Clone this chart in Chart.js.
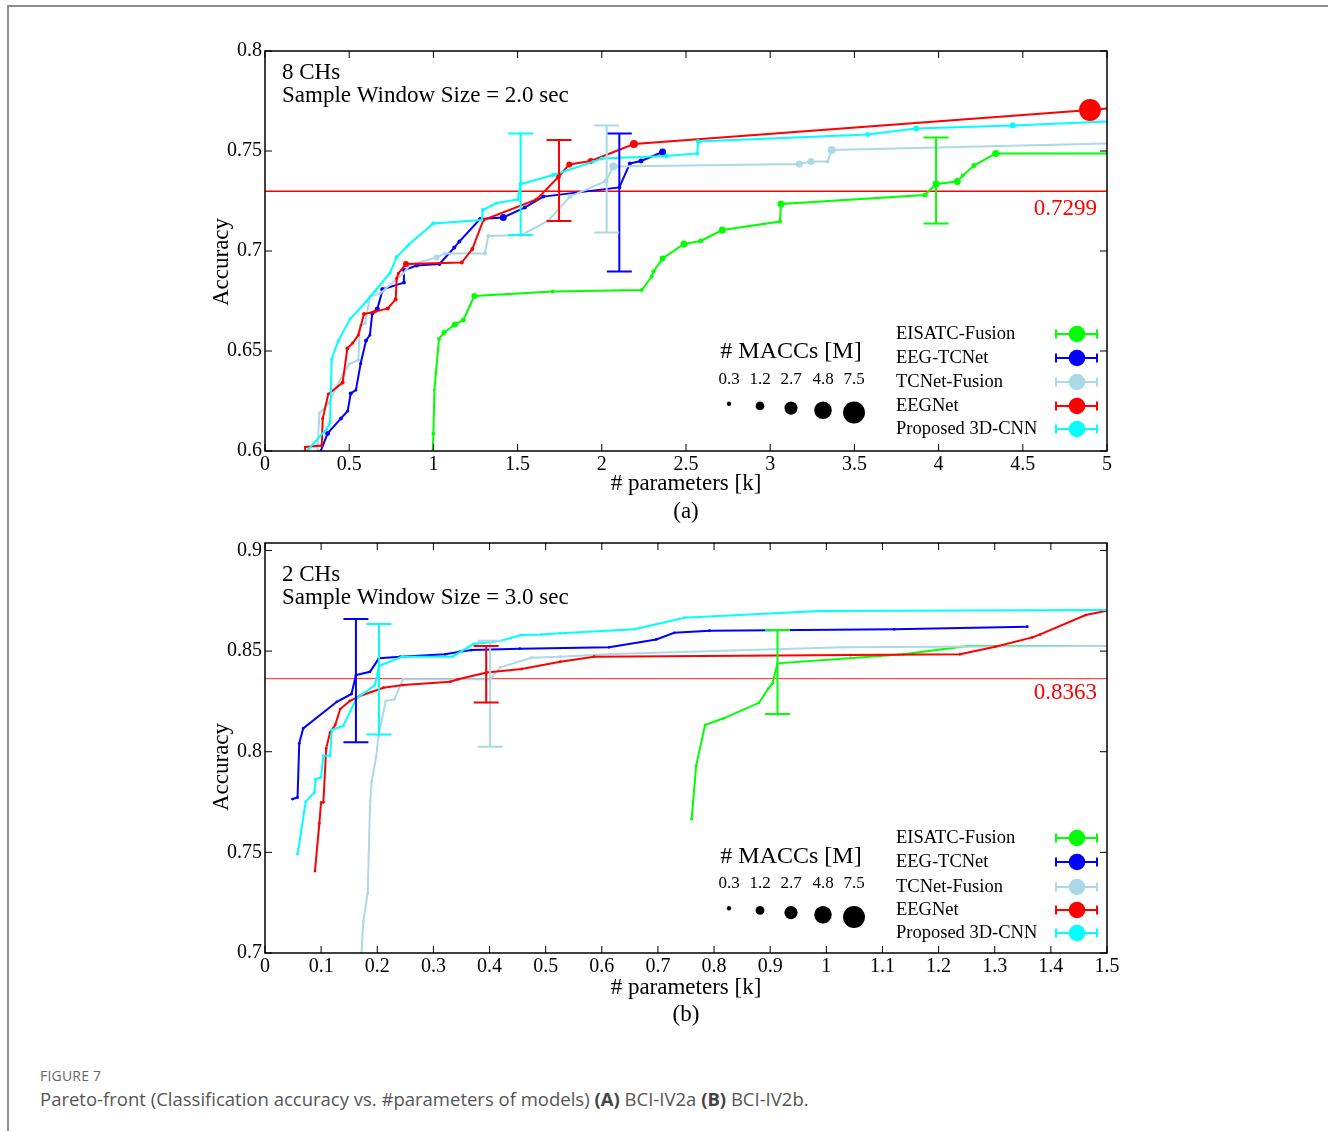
<!DOCTYPE html>
<html>
<head>
<meta charset="utf-8">
<script src="https://cdn.jsdelivr.net/npm/chart.js@4.4.0/dist/chart.umd.min.js"></script>
<style>
html, body { margin: 0; padding: 0; background: #fff; }
body { width: 1328px; height: 1131px; position: relative; overflow: hidden; }
#frame { position: absolute; left: 7px; top: 5px; width: 1340px; height: 1140px; border-left: 2px solid #8e8e8e; border-top: 2px solid #8e8e8e; }
canvas { position: absolute; left: 0; }
#chartA { top: 0; }
#chartB { top: 525px; }
#figNo { position: absolute; left: 40px; top: 1066px; font: 14px "Open Sans", sans-serif; color: #666; letter-spacing: 0.2px; }
#figCap { position: absolute; left: 40px; top: 1086px; font: 18.5px "Open Sans", sans-serif; color: #555; }
#figCap b { color: #444; }
</style>
</head>
<body>
<div id="frame"></div>
<canvas id="chartA" width="1328" height="535"></canvas>
<canvas id="chartB" width="1328" height="515"></canvas>
<div id="figNo">FIGURE 7</div>
<div id="figCap">Pareto-front (Classification accuracy vs. #parameters of models) <b>(A)</b> BCI-IV2a <b>(B)</b> BCI-IV2b.</div>
<script>
// series order: EISATC-Fusion, EEG-TCNet, TCNet-Fusion, EEGNet, Proposed 3D-CNN
var seriesNames = ['EISATC-Fusion', 'EEG-TCNet', 'TCNet-Fusion', 'EEGNet', 'Proposed 3D-CNN'];
var seriesColors = ['#00ff00', '#0000ff', '#add8e6', '#ff0000', '#00ffff'];
var maccLegend = [0.3, 1.2, 2.7, 4.8, 7.5];

// ---- (a) 8 CHs, window 2.0 s ----
var xTicksA = [0, 0.5, 1, 1.5, 2, 2.5, 3, 3.5, 4, 4.5, 5];
var yTicksA = [0.6, 0.65, 0.7, 0.75, 0.8];

var greenParamsA = [0.996, 1.0, 1.006, 1.015, 1.033, 1.063, 1.128, 1.178, 1.243, 1.708, 2.237, 2.296, 2.306, 2.361, 2.488, 2.587, 2.716, 3.058, 3.064, 3.919, 3.985, 4.111, 4.143, 4.21, 4.339, 5.0];
var greenAccA = [0.600, 0.6088, 0.6305, 0.6392, 0.656, 0.6592, 0.6633, 0.6655, 0.6775, 0.6797, 0.6805, 0.6872, 0.6897, 0.6963, 0.7035, 0.705, 0.7105, 0.7147, 0.7235, 0.728, 0.7335, 0.7347, 0.7377, 0.7427, 0.7488, 0.7488];
var greenMaccA = [0.1, 0.25, 0.1, 0.15, 0.25, 0.39, 0.56, 0.39, 0.56, 0.25, 0.25, 0.25, 0.25, 0.56, 0.77, 0.39, 0.77, 0.25, 0.77, 0.39, 0.77, 0.77, 0.25, 0.39, 0.77, 0];

var blueParamsA = [0.331, 0.372, 0.451, 0.491, 0.509, 0.540, 0.568, 0.600, 0.623, 0.637, 0.667, 0.699, 0.825, 0.825, 0.901, 1.036, 1.124, 1.154, 1.277, 1.415, 1.544, 1.653, 2.104, 2.167, 2.233, 2.361];
var blueAccA = [0.600, 0.6088, 0.6163, 0.620, 0.6288, 0.6305, 0.6438, 0.6552, 0.658, 0.6688, 0.671, 0.6808, 0.6842, 0.6905, 0.6927, 0.6935, 0.7017, 0.7047, 0.716, 0.7168, 0.7218, 0.7272, 0.7318, 0.7438, 0.745, 0.7495];
var blueMaccA = [0.15, 0.39, 0.25, 0.15, 0.25, 0.15, 0.15, 0.25, 0.15, 0.25, 0.39, 0.39, 0.25, 0.25, 0.25, 0.25, 0.25, 0.25, 0.25, 0.77, 0.25, 0.25, 0.25, 0.25, 0.39, 0.77];

var lblueParamsA = [0.311, 0.323, 0.376, 0.465, 0.501, 0.554, 0.564, 0.594, 0.624, 0.683, 0.821, 0.861, 1.019, 1.069, 1.306, 1.326, 1.524, 1.682, 1.811, 2.025, 2.068, 3.173, 3.242, 3.341, 3.365, 5.0];
var lblueAccA = [0.600, 0.6188, 0.6238, 0.6388, 0.6435, 0.6455, 0.6625, 0.6638, 0.6772, 0.6788, 0.6888, 0.693, 0.6968, 0.6988, 0.6988, 0.7075, 0.708, 0.7152, 0.7272, 0.735, 0.7422, 0.7435, 0.7447, 0.7447, 0.7505, 0.7538];
var lblueMaccA = [0.15, 0.15, 0.15, 0.15, 0.15, 0.15, 0.15, 0.15, 0.15, 0.15, 0.15, 0.15, 0.56, 0.25, 0.25, 0.25, 0.25, 0.25, 0.39, 0.39, 1.0, 0.77, 0.77, 0.25, 1.0, 0];

var redParamsA = [0.238, 0.238, 0.337, 0.343, 0.376, 0.461, 0.489, 0.521, 0.554, 0.588, 0.653, 0.729, 0.776, 0.782, 0.792, 0.837, 1.168, 1.231, 1.297, 1.613, 1.742, 1.807, 1.934, 2.191, 4.899, 5.0];
var redAccA = [0.600, 0.602, 0.6027, 0.6163, 0.6285, 0.6342, 0.6513, 0.654, 0.658, 0.6685, 0.6697, 0.6713, 0.6758, 0.6863, 0.6888, 0.6935, 0.6942, 0.701, 0.7155, 0.7258, 0.737, 0.7433, 0.745, 0.7535, 0.7705, 0.7712];
var redMaccA = [0.1, 0.1, 0.15, 0.15, 0.15, 0.25, 0.25, 0.15, 0.15, 0.25, 0.25, 0.25, 0.25, 0.15, 0.15, 0.56, 0.25, 0.25, 0.25, 0.25, 0.39, 0.56, 0.56, 1.0, 7.5, 0];

var cyanParamsA = [0.248, 0.366, 0.386, 0.396, 0.435, 0.505, 0.604, 0.653, 0.742, 0.782, 0.851, 0.999, 1.287, 1.293, 1.376, 1.500, 1.518, 1.712, 1.95, 2.0, 2.385, 2.567, 2.573, 3.579, 3.866, 4.44, 5.0];
var cyanAccA = [0.600, 0.611, 0.614, 0.646, 0.655, 0.666, 0.675, 0.680, 0.689, 0.697, 0.703, 0.7138, 0.7155, 0.7205, 0.724, 0.7258, 0.7335, 0.738, 0.7447, 0.7463, 0.7475, 0.7488, 0.7548, 0.7583, 0.7613, 0.7628, 0.7648];
var cyanMaccA = [0.1, 0.15, 0.15, 0.15, 0.15, 0.15, 0.15, 0.15, 0.15, 0.25, 0.15, 0.25, 0.15, 0.25, 0.15, 0.15, 0.25, 0.25, 0.15, 0.25, 0.39, 0.25, 0.39, 0.39, 0.56, 0.56, 0];

var errParamsA = [3.985, 2.104, 2.029, 1.746, 1.518];
var errLowA = [0.7137, 0.6897, 0.7093, 0.715, 0.708];
var errHighA = [0.7567, 0.7587, 0.7627, 0.7555, 0.7587];
var refAccA = 0.7299;

// ---- (b) 2 CHs, window 3.0 s ----
var xTicksB = [0, 0.1, 0.2, 0.3, 0.4, 0.5, 0.6, 0.7, 0.8, 0.9, 1, 1.1, 1.2, 1.3, 1.4, 1.5];
var yTicksB = [0.7, 0.75, 0.8, 0.85, 0.9];

var greenParamsB = [0.760, 0.768, 0.784, 0.817, 0.880, 0.897, 0.904, 0.913, 1.096, 1.137, 1.252, 1.5];
var greenAccB = [0.7664, 0.793, 0.8133, 0.8166, 0.8243, 0.8315, 0.834, 0.8439, 0.8475, 0.8484, 0.8525, 0.8525];

var blueParamsB = [0.049, 0.058, 0.061, 0.068, 0.128, 0.154, 0.162, 0.187, 0.203, 0.241, 0.321, 0.347, 0.368, 0.454, 0.613, 0.697, 0.729, 0.792, 1.121, 1.358];
var blueAccB = [0.7765, 0.7773, 0.8042, 0.8116, 0.8248, 0.8287, 0.8381, 0.8397, 0.8464, 0.8472, 0.8484, 0.8497, 0.8505, 0.8512, 0.8519, 0.8558, 0.8591, 0.8601, 0.8608, 0.8621];

var lblueParamsB = [0.172, 0.175, 0.183, 0.187, 0.190, 0.198, 0.202, 0.215, 0.2305, 0.246, 0.401, 0.419, 0.475, 0.526, 0.62, 1.03, 1.475, 1.5];
var lblueAccB = [0.700, 0.7156, 0.7297, 0.7727, 0.7851, 0.7975, 0.8075, 0.8252, 0.826, 0.836, 0.836, 0.8419, 0.8467, 0.8472, 0.8485, 0.8519, 0.8525, 0.8525];

var redParamsB = [0.089, 0.0968, 0.0998, 0.104, 0.109, 0.116, 0.125, 0.134, 0.151, 0.169, 0.211, 0.246, 0.330, 0.344, 0.395, 0.457, 0.526, 0.586, 1.043, 1.238, 1.301, 1.367, 1.381, 1.462, 1.5];
var redAccB = [0.7407, 0.7644, 0.7747, 0.7749, 0.8017, 0.8096, 0.8133, 0.8212, 0.8252, 0.8277, 0.8318, 0.8331, 0.8348, 0.836, 0.8394, 0.8411, 0.8447, 0.8472, 0.848, 0.8484, 0.8522, 0.8568, 0.8583, 0.8679, 0.870];

var cyanParamsB = [0.058, 0.0725, 0.088, 0.090, 0.0998, 0.104, 0.116, 0.119, 0.1395, 0.163, 0.196, 0.203, 0.2435, 0.334, 0.371, 0.419, 0.457, 0.493, 0.526, 0.658, 0.747, 0.987, 1.5];
var cyanAccB = [0.749, 0.7752, 0.7798, 0.7863, 0.7873, 0.798, 0.798, 0.8108, 0.8129, 0.8265, 0.8331, 0.8426, 0.8472, 0.8472, 0.8535, 0.855, 0.858, 0.8583, 0.8588, 0.8608, 0.8666, 0.8699, 0.8704];

var maccSmallB = 0.12;

var errParamsB = [0.913, 0.162, 0.401, 0.394, 0.203];
var errLowB = [0.8187, 0.8047, 0.8025, 0.8245, 0.8086];
var errHighB = [0.8605, 0.8659, 0.8551, 0.8525, 0.8634];
var refAccB = 0.8363;

var serif = '"Liberation Serif", "Times New Roman", serif';

function maccRadius(m) { return 4 * Math.sqrt(m); }
function fmtTick(v) { return String(Math.round(v * 1000) / 1000); }

function lineSeries(params, acc, macc, color, order) {
  var r = function (c) {
    var m = Array.isArray(macc) ? macc[c.dataIndex] : macc;
    return maccRadius(m || 0);
  };
  return {
    data: params.map(function (p, i) { return { x: p, y: acc[i] }; }),
    borderColor: color,
    backgroundColor: color,
    borderWidth: 2,
    pointBorderWidth: 0,
    pointRadius: r,
    pointHoverRadius: r,
    tension: 0,
    order: order
  };
}

function refSeries(xMax, val, width, color) {
  return {
    data: [{ x: 0, y: val }, { x: xMax, y: val }],
    borderColor: color, borderWidth: width, pointRadius: 0, order: 10
  };
}

var decoPlugin = {
  id: 'deco',
  afterDatasetsDraw: function (chart, args, o) {
    var ctx = chart.ctx, x = chart.scales.x, y = chart.scales.y;
    ctx.save();
    ctx.lineWidth = 2;
    o.errX.forEach(function (xv, i) {
      var px = x.getPixelForValue(xv);
      var t = y.getPixelForValue(o.errHi[i]), b = y.getPixelForValue(o.errLo[i]);
      ctx.strokeStyle = seriesColors[i];
      ctx.beginPath();
      ctx.moveTo(px, t); ctx.lineTo(px, b);
      ctx.moveTo(px - 12.5, t); ctx.lineTo(px + 12.5, t);
      ctx.moveTo(px - 12.5, b); ctx.lineTo(px + 12.5, b);
      ctx.stroke();
    });
    ctx.restore();
  },
  afterDraw: function (chart, args, o) {
    var ctx = chart.ctx, a = chart.chartArea, x = chart.scales.x, y = chart.scales.y;
    ctx.save();
    // frame and inward ticks (gnuplot style, mirrored)
    ctx.strokeStyle = '#000';
    ctx.lineWidth = 1.5;
    ctx.strokeRect(a.left, a.top, a.right - a.left, a.bottom - a.top);
    ctx.lineWidth = 1;
    ctx.beginPath();
    x.ticks.forEach(function (t) {
      var p = x.getPixelForValue(t.value);
      ctx.moveTo(p, a.bottom); ctx.lineTo(p, a.bottom - 7);
      ctx.moveTo(p, a.top); ctx.lineTo(p, a.top + 7);
    });
    y.ticks.forEach(function (t) {
      var p = y.getPixelForValue(t.value);
      ctx.moveTo(a.left, p); ctx.lineTo(a.left + 7, p);
      ctx.moveTo(a.right, p); ctx.lineTo(a.right - 7, p);
    });
    ctx.stroke();

    ctx.fillStyle = '#000';
    ctx.textBaseline = 'middle';
    // annotation
    ctx.font = '23px ' + serif;
    ctx.textAlign = 'left';
    o.note.forEach(function (s, i) { ctx.fillText(s, 282, o.noteY[i]); });
    // axis titles
    ctx.textAlign = 'center';
    o.xTitle.forEach(function (s, i) { ctx.fillText(s, (a.left + a.right) / 2, o.xTitleY[i]); });
    ctx.save();
    ctx.translate(222, o.yTitleY);
    ctx.rotate(-Math.PI / 2);
    ctx.fillText('Accuracy', 0, 0);
    ctx.restore();
    // reference value label
    ctx.fillStyle = '#ff0000';
    ctx.textAlign = 'right';
    ctx.fillText(o.ref.toFixed(4), 1097, o.refLabelY);

    // MACC size key
    ctx.fillStyle = '#000';
    ctx.textAlign = 'center';
    ctx.font = '24px ' + serif;
    ctx.fillText('# MACCs [M]', 791, o.maccTitleY);
    ctx.font = '17px ' + serif;
    var kx = [729, 760, 791, 823, 854];
    maccLegend.forEach(function (m, i) {
      ctx.fillText(m.toFixed(1), kx[i], o.maccValY);
      var r = maccRadius(m);
      ctx.beginPath();
      ctx.arc(kx[i], o.maccTop + r, r, 0, Math.PI * 2);
      ctx.fill();
    });

    // series key
    ctx.font = '18.5px ' + serif;
    ctx.textAlign = 'left';
    seriesNames.forEach(function (n, i) {
      var ly = o.legendY[i];
      ctx.fillStyle = '#000';
      ctx.fillText(n, 896, ly);
      ctx.strokeStyle = seriesColors[i];
      ctx.fillStyle = seriesColors[i];
      ctx.lineWidth = 2;
      ctx.beginPath();
      ctx.moveTo(1056, ly); ctx.lineTo(1097, ly);
      ctx.moveTo(1056, ly - 4.5); ctx.lineTo(1056, ly + 4.5);
      ctx.moveTo(1097, ly - 4.5); ctx.lineTo(1097, ly + 4.5);
      ctx.stroke();
      ctx.beginPath();
      ctx.arc(1077, ly, 8.3, 0, Math.PI * 2);
      ctx.fill();
    });
    ctx.restore();
  }
};

function chartOptions(xMax, yMin, yMax, xTicks, yTicks, padTop, padBottom, deco) {
  var tickFont = { family: serif, size: 20 };
  return {
    responsive: false,
    animation: false,
    events: [],
    layout: { padding: { left: 205, right: 221, top: padTop, bottom: padBottom } },
    plugins: { legend: { display: false }, tooltip: { enabled: false }, deco: deco },
    scales: {
      x: {
        type: 'linear', min: 0, max: xMax,
        afterBuildTicks: function (s) { s.ticks = xTicks.map(function (v) { return { value: v }; }); },
        afterFit: function (s) { s.height = 75; },
        grid: { display: false, drawTicks: false },
        border: { display: false },
        ticks: { autoSkip: false, maxRotation: 0, padding: 2, color: '#000', font: tickFont, callback: fmtTick }
      },
      y: {
        type: 'linear', min: yMin, max: yMax,
        afterBuildTicks: function (s) { s.ticks = yTicks.map(function (v) { return { value: v }; }); },
        afterFit: function (s) { s.width = 60; },
        grid: { display: false, drawTicks: false },
        border: { display: false },
        ticks: { autoSkip: false, padding: 3, color: '#000', font: tickFont, callback: fmtTick }
      }
    }
  };
}

new Chart(document.getElementById('chartA').getContext('2d'), {
  type: 'line',
  data: {
    datasets: [
      lineSeries(greenParamsA, greenAccA, greenMaccA, seriesColors[0], 5),
      lineSeries(blueParamsA, blueAccA, blueMaccA, seriesColors[1], 4),
      lineSeries(lblueParamsA, lblueAccA, lblueMaccA, seriesColors[2], 3),
      lineSeries(redParamsA, redAccA, redMaccA, seriesColors[3], 2),
      lineSeries(cyanParamsA, cyanAccA, cyanMaccA, seriesColors[4], 1),
      refSeries(5, refAccA, 1.5, '#ff0000')
    ]
  },
  options: chartOptions(5, 0.6, 0.8, xTicksA, yTicksA, 51, 9, {
    errX: errParamsA, errLo: errLowA, errHi: errHighA, ref: refAccA,
    note: ['8 CHs', 'Sample Window Size = 2.0 sec'], noteY: [73, 96],
    xTitle: ['# parameters [k]', '(a)'], xTitleY: [484, 512], yTitleY: 262,
    refLabelY: 209, maccTitleY: 352, maccValY: 380, maccTop: 401.5,
    legendY: [334, 358, 382, 406, 429]
  }),
  plugins: [decoPlugin]
});

new Chart(document.getElementById('chartB').getContext('2d'), {
  type: 'line',
  data: {
    datasets: [
      lineSeries(greenParamsB, greenAccB, maccSmallB, seriesColors[0], 5),
      lineSeries(blueParamsB, blueAccB, maccSmallB, seriesColors[1], 4),
      lineSeries(lblueParamsB, lblueAccB, maccSmallB, seriesColors[2], 3),
      lineSeries(redParamsB, redAccB, maccSmallB, seriesColors[3], 2),
      lineSeries(cyanParamsB, cyanAccB, maccSmallB, seriesColors[4], 1),
      refSeries(1.5, refAccB, 1, 'rgba(255,0,0,0.85)')
    ]
  },
  options: chartOptions(1.5, 0.7, 0.9037, xTicksB, yTicksB, 18, 12, {
    errX: errParamsB, errLo: errLowB, errHi: errHighB, ref: refAccB,
    note: ['2 CHs', 'Sample Window Size = 3.0 sec'], noteY: [50, 73],
    xTitle: ['# parameters [k]', '(b)'], xTitleY: [463, 490], yTitleY: 242,
    refLabelY: 168, maccTitleY: 332, maccValY: 359, maccTop: 381,
    legendY: [313, 337, 362, 385, 408]
  }),
  plugins: [decoPlugin]
});
</script>
</body>
</html>
